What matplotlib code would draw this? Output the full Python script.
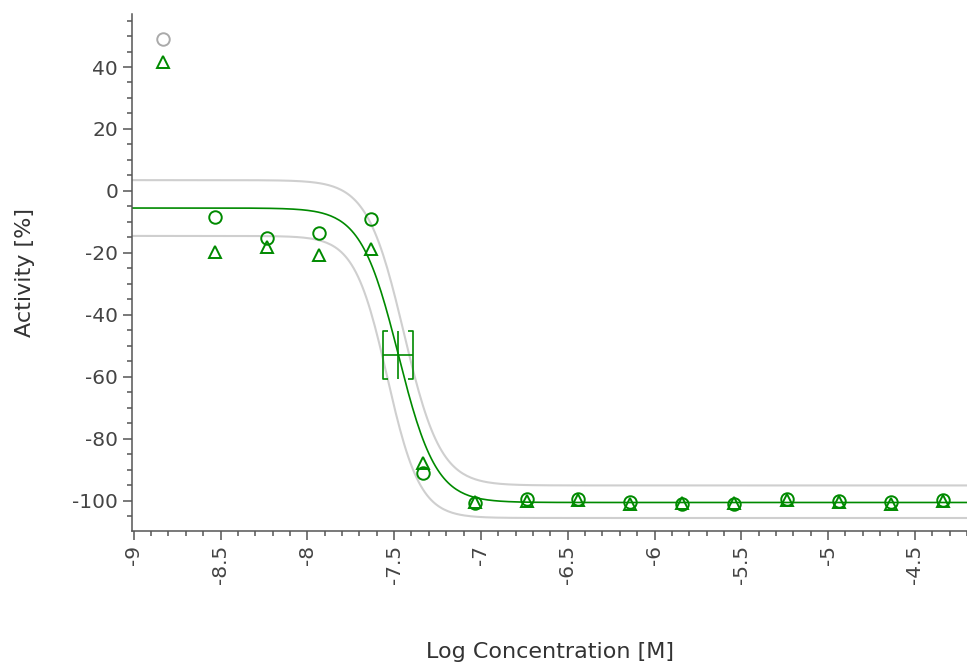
import numpy as np
import matplotlib
matplotlib.use('Agg')
from matplotlib import pyplot as plt
from matplotlib.ticker import MultipleLocator

plt.rcParams['font.family'] = ['DejaVu Sans']
plt.rcParams['axes.unicode_minus'] = False

# dilution series, log10 of molar concentration
log_conc = [-8.83, -8.53, -8.23, -7.93, -7.635, -7.335, -7.036, -6.736,
            -6.442, -6.143, -5.843, -5.544, -5.238, -4.939, -4.639, -4.34]
# replicate 1 (circles), first point masked out of the fit
rep1 = [48.9, -8.3, -15.1, -13.6, -9.1, -91.1, -100.8, -99.5,
        -99.4, -100.2, -101.1, -101.1, -99.4, -100.0, -100.2, -99.6]
rep1_masked = [True, False, False, False, False, False, False, False,
               False, False, False, False, False, False, False, False]
# replicate 2 (triangles)
rep2 = [41.7, -19.8, -18.0, -20.8, -18.7, -87.8, -100.5, -100.0,
        -99.6, -100.9, -100.7, -100.6, -99.7, -100.4, -100.9, -100.1]

# 4-parameter logistic fit: top, bottom, log IC50, hill slope
fit = (-5.5, -100.5, -7.475, 4.0)
band_upper = (3.5, -95.0, -7.444, 4.1)
band_lower = (-14.5, -105.5, -7.54, 4.6)
ic50_ci = (-7.566, -7.393)

GREEN = '#008a00'
GRAY = '#cfcfcf'


def hill(x, top, bottom, logic50, slope):
    return bottom + (top - bottom) / (1 + 10 ** ((x - logic50) * slope))


fig = plt.figure(figsize=(9.67, 6.68), dpi=100)
ax = fig.add_axes([132 / 967, 137 / 668, 835 / 967, 517 / 668])

xs = np.linspace(-9.01, -4.2, 400)
ax.plot(xs, hill(xs, *band_upper), color=GRAY, lw=1.5, zorder=1)
ax.plot(xs, hill(xs, *band_lower), color=GRAY, lw=1.5, zorder=1)
ax.plot(xs, hill(xs, *fit), color=GREEN, lw=1.2, zorder=2)

x = np.array(log_conc)
y1 = np.array(rep1)
m1 = np.array(rep1_masked)
ax.plot(x[~m1], y1[~m1], 'o', ms=9, mfc='none', mec=GREEN, mew=1.4, zorder=3)
ax.plot(x[m1], y1[m1], 'o', ms=9, mfc='none', mec='#aaaaaa', mew=1.4, zorder=3)
ax.plot(x, rep2, '^', ms=8, mfc='none', mec=GREEN, mew=1.4, zorder=3)

# IC50 marker with bracketed confidence interval
top, bottom, logic50, _ = fit
ymid = (top + bottom) / 2
half_h = 7.7
serif = 0.028
lo, hi = ic50_ci
kw = dict(color=GREEN, lw=1.2, zorder=4, solid_capstyle='butt')
ax.plot([lo, hi], [ymid, ymid], **kw)
ax.plot([logic50, logic50], [ymid - half_h, ymid + half_h], **kw)
ax.plot([lo + serif, lo, lo, lo + serif],
        [ymid + half_h, ymid + half_h, ymid - half_h, ymid - half_h], **kw)
ax.plot([hi - serif, hi, hi, hi - serif],
        [ymid + half_h, ymid + half_h, ymid - half_h, ymid - half_h], **kw)

ax.set_xlim(-9.01, -4.2)
ax.set_ylim(-109.7, 57.1)
ax.xaxis.set_major_locator(MultipleLocator(0.5))
ax.xaxis.set_minor_locator(MultipleLocator(0.1))
ax.yaxis.set_major_locator(MultipleLocator(20))
ax.yaxis.set_minor_locator(MultipleLocator(5))
ax.set_xticks(np.arange(-9, -4.2, 0.5))
ax.set_xticklabels(['%g' % v for v in np.arange(-9, -4.2, 0.5)], rotation=90)

for side in ('top', 'right'):
    ax.spines[side].set_visible(False)
for side in ('left', 'bottom'):
    ax.spines[side].set_color('#555555')
    ax.spines[side].set_linewidth(1.1)

ax.tick_params(which='major', length=6.5, width=1.1, color='#555555',
               labelsize=14.5, labelcolor='#444444', pad=3.5)
ax.tick_params(which='minor', length=3.6, width=1.1, color='#555555')

ax.set_ylabel('Activity [%]', fontsize=16, color='#333333')
ax.set_xlabel('Log Concentration [M]', fontsize=16, color='#333333')
ax.yaxis.set_label_coords(-0.128, 0.5)
ax.xaxis.set_label_coords(0.5, -0.234)
ax.xaxis.label.set_va('center')
ax.yaxis.label.set_va('center')

fig.savefig('out.png', dpi=100)
